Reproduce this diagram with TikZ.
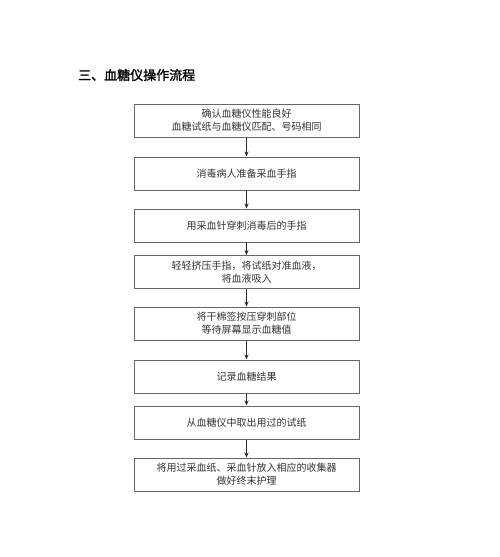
\documentclass[tikz,border=0pt]{standalone}
\usepackage{fontspec}
\newfontfamily\cjk{Noto Sans CJK SC}
\newfontfamily\cjkbold[FakeBold=1.5]{Noto Sans CJK SC}
\usetikzlibrary{arrows.meta}

\begin{document}
\begin{tikzpicture}[
  x=1pt, y=-1pt,
  title/.style={anchor=west, font=\cjkbold\fontsize{13}{15}\selectfont, text=black, inner sep=0pt},
  stepbox/.style={rectangle, draw=black!60, line width=1pt, fill=white,
                  align=center, font=\cjk\fontsize{10}{13}\selectfont, text=black!80,
                  minimum width=225pt, minimum height=33pt, inner sep=2pt},
  arr/.style={-{Stealth[length=5pt,width=4pt]}, line width=0.8pt, black!85},
]
\useasboundingbox (0,0) rectangle (500,557);

% Title
\node[title] (T) at (78,75) {三、血糖仪操作流程};

% Steps -- centre x 246.5
\node[stepbox] (S1) at (246.5,120.5) {确认血糖仪性能良好\\血糖试纸与血糖仪匹配、号码相同};
\node[stepbox] (S2) at (246.5,173.5) {消毒病人准备采血手指};
\node[stepbox] (S3) at (246.5,225.5) {用采血针穿刺消毒后的手指};
\node[stepbox] (S4) at (246.5,272)   {轻轻挤压手指，将试纸对准血液，\\将血液吸入};
\node[stepbox] (S5) at (246.5,323.5) {将干棉签按压穿刺部位\\等待屏幕显示血糖值};
\node[stepbox] (S6) at (246.5,376.5) {记录血糖结果};
\node[stepbox] (S7) at (246.5,422.5) {从血糖仪中取出用过的试纸};
\node[stepbox] (S8) at (246.5,474.5) {将用过采血纸、采血针放入相应的收集器\\做好终末护理};

% Arrows between steps
\draw[arr] (S1.south)--(S2.north);
\draw[arr] (S2.south)--(S3.north);
\draw[arr] (S3.south)--(S4.north);
\draw[arr] (S4.south)--(S5.north);
\draw[arr] (S5.south)--(S6.north);
\draw[arr] (S6.south)--(S7.north);
\draw[arr] (S7.south)--(S8.north);

\end{tikzpicture}
\end{document}
